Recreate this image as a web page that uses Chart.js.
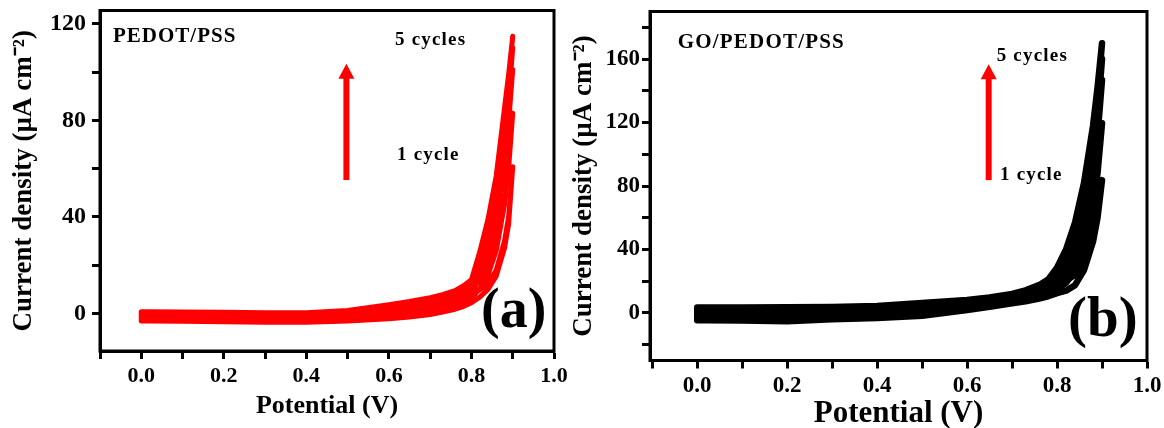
<!DOCTYPE html>
<html><head><meta charset="utf-8">
<script src="https://cdn.jsdelivr.net/npm/chart.js@4.4.1/dist/chart.umd.min.js"></script>
<style>
html,body{margin:0;padding:0;background:#fff;width:1164px;height:428px;overflow:hidden}
#wrapL{position:absolute;left:0;top:0;width:575px;height:428px}
#wrapR{position:absolute;left:560px;top:0;width:604px;height:428px}
canvas{display:block}
</style></head><body>
<div id="wrapL"><canvas id="cL" width="575" height="428"></canvas></div>
<div id="wrapR"><canvas id="cR" width="604" height="428"></canvas></div>
<script>
// ---- data (potential in V, current density in µA cm^-2) ----
// forward scan 0 -> 0.9 V, then reverse scan 0.9 -> 0 V
const scanPotential = [0.00,0.02,0.10,0.20,0.30,0.40,0.50,0.60,0.65,0.70,0.73,0.76,0.78,0.80,0.82,0.84,0.86,0.88,0.89,0.90,
                       0.89,0.88,0.86,0.84,0.82,0.80,0.78,0.76,0.73,0.70,0.65,0.60,0.50,0.40,0.30,0.20,0.10,0.02,0.00];

// PEDOT/PSS (panel a)
const pedotCycle1 = [-0.97,-0.97,-1.07,-1.27,-1.47,-1.47,-0.6,1.2,2.2,3.5,4.7,6.1,7.7,8.6,9.8,12.5,18,30,40,60.8,
                     37,27,15.5,10,6.8,4.5,2.9,1.8,0.6,-0.4,-1.4,-2.1,-3.1,-3.6,-3.6,-3.4,-3.2,-3.1,-3.1];
const pedotCycle2 = [-0.5,-0.5,-0.6,-0.8,-1.0,-1.0,-0.1,1.8,2.9,4.3,5.5,7.0,8.6,10,14,20,31,50,64,83,
                     60,45,26,16,10.5,6,3.9,2.7,1.4,0.4,-0.7,-1.4,-2.6,-3.2,-3.2,-3.0,-2.8,-2.7,-2.7];
const pedotCycle3 = [-0.03,-0.03,-0.13,-0.33,-0.53,-0.53,0.4,2.5,3.7,5.1,6.3,7.9,9.6,11.5,19,29,44,68,83,101,
                     79,63,39,25,16,7.5,4.8,3.5,2.2,1.2,0,-0.8,-2.1,-2.8,-2.8,-2.6,-2.4,-2.3,-2.3];
const pedotCycle4 = [0.43,0.43,0.33,0.13,-0.07,-0.07,0.9,3.1,4.4,5.9,7.1,8.7,10.5,12.8,22,34,51,77,92,110,
                     88,73,46,30,19,9,5.8,4.4,3.0,2.0,0.8,-0.1,-1.6,-2.4,-2.4,-2.2,-2.0,-1.9,-1.9];
const pedotCycle5 = [0.8,0.8,0.7,0.5,0.3,0.3,1.3,3.7,5.0,6.6,7.8,9.5,11.4,14,25.5,39,57,85,99,114.8,
                     95,80,52,35,22,10.5,6.7,5.3,3.8,2.8,1.5,0.5,-1.1,-1.93,-1.93,-1.73,-1.53,-1.43,-1.43];

// GO/PEDOT/PSS (panel b)
const goCycle1 = [-0.2,-0.2,-0.3,-0.3,0.3,1.0,2.7,5.4,7.1,9.3,11.1,13.7,16.3,18.5,20.5,24,33,52,66,83.7,
                  60,45,27,17.5,14,12.5,10.5,9.0,7.3,6,3.8,1.8,-1.8,-3.2,-4.0,-5.2,-4.8,-4.6,-4.6];
const goCycle2 = [0.8,0.8,0.7,0.7,1.2,1.9,3.6,6.1,7.8,10,11.9,14.7,17.5,20.5,24.5,32,48,73,92,119.5,
                  88,67,42,27,19,15,11.7,9.9,8.1,6.7,4.5,2.5,-0.9,-2.5,-3.3,-4.3,-4.0,-3.8,-3.8];
const goCycle3 = [1.8,1.8,1.7,1.8,2.2,2.8,4.5,6.8,8.5,10.7,12.7,15.6,18.7,23.5,31,44,64,94,116,146.8,
                  112,89,58,38,25,17.5,12.8,10.9,8.8,7.3,5.1,3.2,0,-1.6,-2.5,-3.5,-3.2,-3.1,-3.1];
const goCycle4 = [2.7,2.7,2.7,2.8,3.1,3.7,5.4,7.5,9.1,11.3,13.4,16.6,19.8,26,35.5,50.5,73,106,129,160,
                  125,100,66,44,29.5,20,14,11.8,9.6,8,5.8,3.9,0.9,-0.7,-1.5,-2.4,-2.2,-2.1,-2.1];
const goCycle5 = [3.4,3.4,3.4,3.6,3.8,4.4,6.2,8.2,9.8,12,14.2,17.5,21,28.5,40,57,82,118,142,170,
                  137,111,74,50,34,22,15.2,12.8,10.4,8.7,6.5,4.6,1.8,0.2,-0.6,-1.4,-1.2,-1.1,-1.1];

const xTickValues = [-0.1,0,0.1,0.2,0.3,0.4,0.5,0.6,0.7,0.8,0.9,1.0];
const xTickLabels = ['','0.0','','0.2','','0.4','','0.6','','0.8','','1.0'];
const pedotYTicks = [0,20,40,60,80,100,120];
const pedotYLabels = ['0','','40','','80','','120'];
const goYTicks = [-20,0,20,40,60,80,100,120,140,160,180];
const goYLabels = ['','0','','40','','80','','120','','160',''];

// ---- helpers ----
const SERIF = "'Liberation Serif','Times New Roman',serif";
Chart.defaults.color = '#000';
Chart.defaults.font.family = SERIF;

function buildSets(cycles, color, width) {
  return cycles.map(vals => ({
    data: scanPotential.map((e, i) => ({x: e, y: vals[i]})),
    showLine: true, borderColor: color, backgroundColor: color, borderWidth: width,
    pointRadius: 0, tension: 0, fill: false, borderJoinStyle: 'round', borderCapStyle: 'round'
  }));
}

const panelPlugin = {
  id: 'panelText',
  afterDraw(chart, args, opts) {
    const ctx = chart.ctx;
    const ca = chart.chartArea;
    ctx.save();
    ctx.strokeStyle = '#000'; ctx.lineWidth = 3;
    ctx.strokeRect(ca.left, ca.top, ca.right - ca.left, ca.bottom - ca.top);
    const a = opts.arrow;
    const px = chart.scales.x.getPixelForValue(a.e);
    const yb = chart.scales.y.getPixelForValue(a.from);
    const yt = chart.scales.y.getPixelForValue(a.to);
    ctx.fillStyle = '#ff0000';
    ctx.fillRect(px - 3, yt + 14, 6, yb - yt - 14);
    ctx.beginPath(); ctx.moveTo(px, yt); ctx.lineTo(px - 8, yt + 15); ctx.lineTo(px + 8, yt + 15); ctx.closePath(); ctx.fill();
    ctx.fillStyle = '#000'; ctx.textBaseline = 'alphabetic'; ctx.textAlign = 'left';
    for (const t of opts.items) {
      ctx.font = 'bold ' + t.size + 'px ' + SERIF;
      try { ctx.letterSpacing = (t.ls || 0) + 'px'; } catch (e) {}
      ctx.fillText(t.text, t.x, t.y);
    }
    try { ctx.letterSpacing = '0px'; } catch (e) {}
    ctx.restore();
  }
};

function makeChart(canvasId, cfg) {
  const font = (s) => ({family: SERIF, weight: 'bold', size: s});
  return new Chart(document.getElementById(canvasId), {
    type: 'scatter',
    data: {datasets: buildSets(cfg.cycles, cfg.color, cfg.lineWidth)},
    options: {
      responsive: false, animation: false, devicePixelRatio: 1,
      layout: {padding: cfg.padding},
      plugins: {legend: {display: false}, tooltip: {enabled: false}, panelText: cfg.annot},
      scales: {
        x: {
          type: 'linear', min: cfg.xMin, max: 1.0,
          afterBuildTicks: s => { s.ticks = xTickValues.map(v => ({value: v})); },
          afterFit: s => { s.height = cfg.xHeight; s.paddingLeft = 0; s.paddingRight = 0; },
          ticks: {callback: (v, i) => xTickLabels[i], font: font(cfg.xTickSize), color: '#000', padding: 4, autoSkip: false, maxRotation: 0, minRotation: 0},
          grid: {drawOnChartArea: false, tickLength: 8, tickWidth: 3, tickColor: '#000'},
          border: {display: true, width: 3, color: '#000'},
          title: {display: true, text: 'Potential (V)', font: Object.assign(font(cfg.xTitleSize), {lineHeight: cfg.xTitleLH}), color: '#000', padding: {top: 0, bottom: cfg.xTitlePad}}
        },
        y: {
          type: 'linear', min: cfg.yMin, max: cfg.yMax,
          afterBuildTicks: s => { s.ticks = cfg.yTicks.map(v => ({value: v})); },
          afterFit: s => { s.width = cfg.yWidth; s.paddingTop = 0; s.paddingBottom = 0; },
          ticks: {callback: (v, i) => cfg.yLabels[i], font: font(cfg.yTickSize), color: '#000', padding: cfg.yTickPad, autoSkip: false},
          grid: {drawOnChartArea: false, tickLength: 8, tickWidth: 3, tickColor: '#000'},
          border: {display: true, width: 3, color: '#000'},
          title: {display: true, text: 'Current density (µA cm⁻²)', font: font(27), color: '#000', padding: {top: 8, bottom: 0}}
        }
      }
    },
    plugins: [panelPlugin]
  });
}

makeChart('cL', {
  cycles: [pedotCycle1, pedotCycle2, pedotCycle3, pedotCycle4, pedotCycle5],
  color: '#ff0000', lineWidth: 5,
  padding: {top: 10.5, right: 21, bottom: 0, left: 0},
  xMin: -0.1, xHeight: 77, xTickSize: 22, xTitleSize: 26, xTitleLH: 1.2, xTitlePad: 6,
  yMin: -15.5, yMax: 125.5, yTicks: pedotYTicks, yLabels: pedotYLabels, yWidth: 100, yTickSize: 24, yTickPad: 6,
  annot: {
    arrow: {e: 0.497, from: 55.3, to: 103.4},
    items: [
      {text: 'PEDOT/PSS', x: 113, y: 41.5, size: 21, ls: 1},
      {text: '5 cycles', x: 395, y: 45, size: 19, ls: 1.2},
      {text: '1 cycle', x: 397, y: 160, size: 19, ls: 1.2},
      {text: '(a)', x: 481, y: 327, size: 56, ls: 0}
    ]
  }
});

makeChart('cR', {
  cycles: [goCycle1, goCycle2, goCycle3, goCycle4, goCycle5],
  color: '#000000', lineWidth: 6.5,
  padding: {top: 11.5, right: 17, bottom: 0, left: 0},
  xMin: -0.105, xHeight: 67.5, xTickSize: 23, xTitleSize: 31, xTitleLH: 0.9, xTitlePad: 0,
  yMin: -30, yMax: 190, yTicks: goYTicks, yLabels: goYLabels, yWidth: 90, yTickSize: 23, yTickPad: 2,
  annot: {
    arrow: {e: 0.648, from: 83.7, to: 156.7},
    items: [
      {text: 'GO/PEDOT/PSS', x: 117.7, y: 48, size: 21, ls: 1.2},
      {text: '5 cycles', x: 436.7, y: 60.5, size: 19, ls: 1.2},
      {text: '1 cycle', x: 440, y: 179.5, size: 19, ls: 1.2},
      {text: '(b)', x: 508, y: 336, size: 57, ls: 0}
    ]
  }
});
</script>
</body></html>
